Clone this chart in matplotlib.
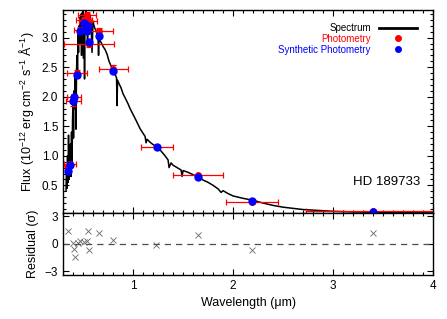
import matplotlib
matplotlib.use("Agg")
import matplotlib.pyplot as plt
from matplotlib.lines import Line2D
from matplotlib.ticker import MultipleLocator

plt.rcParams["font.family"] = ["Liberation Sans", "DejaVu Sans"]
plt.rcParams["mathtext.fontset"] = "custom"
plt.rcParams["mathtext.rm"] = "Liberation Sans"
plt.rcParams["mathtext.it"] = "Liberation Sans:italic"

# spectrum (wavelength in micron, flux in 1e-12 erg/cm2/s/A)
spec_wave = [0.33, 0.335, 0.34, 0.345, 0.35, 0.355, 0.36, 0.365, 0.37, 0.375,
             0.38, 0.385, 0.39, 0.395, 0.40, 0.405, 0.41, 0.415, 0.42, 0.425,
             0.43, 0.435, 0.44, 0.445, 0.45, 0.455, 0.46, 0.465, 0.47, 0.475,
             0.48, 0.485, 0.49, 0.495, 0.50, 0.505, 0.51, 0.515, 0.52, 0.525,
             0.53, 0.535, 0.54, 0.545, 0.55, 0.56, 0.57, 0.58, 0.59, 0.60,
             0.61, 0.62, 0.63, 0.64, 0.65, 0.655, 0.66, 0.68, 0.70, 0.72, 0.74,
             0.76, 0.78, 0.80, 0.82, 0.835, 0.84, 0.845, 0.86, 0.88, 0.90, 0.93,
             0.95, 0.97, 1.00, 1.03, 1.07, 1.10, 1.12, 1.13, 1.14, 1.17, 1.20, 1.24,
             1.28, 1.32, 1.35, 1.36, 1.38, 1.40, 1.44, 1.48, 1.49, 1.50,
             1.55, 1.60, 1.65, 1.70, 1.75, 1.80, 1.85, 1.88, 1.90, 1.95,
             2.00, 2.05, 2.10, 2.19, 2.30, 2.40, 2.50, 2.60, 2.70, 2.80,
             3.00, 3.20, 3.40, 3.60, 3.80, 4.00]
spec_flux = [0.40, 0.85, 0.45, 1.00, 0.55, 1.35, 0.60, 1.10, 0.70, 1.20,
             0.65, 1.40, 0.85, 1.60, 1.95, 1.30, 2.10, 1.80, 2.35, 2.05,
             1.45, 2.45, 2.70, 2.40, 3.05, 2.75, 3.20, 2.90, 3.35, 3.05,
             3.40, 2.70, 3.42, 3.15, 3.45, 2.65, 3.40, 2.30, 3.35, 3.10,
             3.45, 3.20, 3.40, 2.95, 3.42, 3.30, 3.38, 3.25, 2.75, 3.28,
             3.20, 3.15, 3.12, 3.05, 3.00, 2.70, 2.98, 2.92, 2.85, 2.80, 2.72,
             2.60, 2.52, 2.45, 2.38, 2.32, 1.85, 2.28, 2.22, 2.15, 2.05, 1.95,
             1.88, 1.80, 1.70, 1.60, 1.46, 1.38, 1.33, 1.22, 1.28, 1.23, 1.19, 1.15,
             1.08, 1.00, 0.93, 0.80, 0.88, 0.84, 0.80, 0.76, 0.65, 0.75,
             0.72, 0.68, 0.64, 0.59, 0.55, 0.50, 0.44, 0.38, 0.41, 0.36,
             0.32, 0.30, 0.28, 0.25, 0.20, 0.16, 0.13, 0.11, 0.09, 0.08,
             0.06, 0.05, 0.045, 0.04, 0.035, 0.032]

# photometry
phot_wave = [0.35, 0.365, 0.40, 0.41, 0.44, 0.47, 0.51, 0.54, 0.55, 0.56,
             0.66, 0.80, 1.24, 1.65, 2.19, 3.40]
phot_flux = [0.80, 0.86, 1.93, 1.99, 2.40, 3.13, 3.30, 3.38, 3.28, 2.90,
             3.12, 2.47, 1.15, 0.67, 0.22, 0.06]
phot_xerr = [0.03, 0.06, 0.075, 0.07, 0.10, 0.065, 0.08, 0.09, 0.09, 0.25,
             0.14, 0.145, 0.16, 0.25, 0.26, 0.67]
phot_yerr = [0.04, 0.04, 0.08, 0.05, 0.06, 0.05, 0.05, 0.06, 0.06, 0.05,
             0.05, 0.06, 0.03, 0.03, 0.02, 0.01]
synth_flux = [0.75, 0.85, 1.92, 2.00, 2.37, 3.12, 3.25, 3.12, 3.19, 2.92,
              3.03, 2.44, 1.15, 0.64, 0.24, 0.05]

# residuals in sigma
resid_wave = [0.346, 0.396, 0.406, 0.42, 0.446, 0.473, 0.513, 0.54, 0.546, 0.563,
              0.663, 0.80, 1.233, 1.653, 2.19, 3.40]
resid = [1.39, 0.13, -0.53, -1.44, 0.13, 0.30, 0.24, 0.30, 1.39, -0.67,
         1.20, 0.38, -0.13, 1.00, -0.68, 1.20]

fig = plt.figure(figsize=(4.47, 3.19), dpi=100)
ax = fig.add_axes([0.141, 0.332, 0.828, 0.637])
axr = fig.add_axes([0.141, 0.138, 0.828, 0.194], sharex=ax)

ax.plot(spec_wave, spec_flux, color="black", lw=1.1, zorder=2)
ax.errorbar(phot_wave, phot_flux, xerr=phot_xerr, yerr=phot_yerr, fmt="o",
            color="red", ecolor="red", ms=4, elinewidth=0.9, capsize=2,
            capthick=0.9, zorder=3)
ax.plot(phot_wave, synth_flux, "o", color="blue", ms=5, zorder=4)

ax.set_xlim(0.3, 4.0)
ax.set_ylim(0.03, 3.47)
ax.set_ylabel("Flux (10$^{-12}$ erg cm$^{-2}$ s$^{-1}$ Å$^{-1}$)", fontsize=9)
ax.yaxis.set_major_locator(MultipleLocator(0.5))
ax.yaxis.set_minor_locator(MultipleLocator(0.1))
ax.xaxis.set_major_locator(MultipleLocator(1))
ax.xaxis.set_minor_locator(MultipleLocator(0.1))
ax.tick_params(labelbottom=False)
ax.text(0.965, 0.153, "HD 189733", transform=ax.transAxes, ha="right", va="center",
        fontsize=9.5)

handles = [Line2D([], [], color="black", lw=2),
           Line2D([], [], ls="none", marker="o", color="red", ms=4),
           Line2D([], [], ls="none", marker="o", color="blue", ms=4)]
labels = ["Spectrum", "Photometry", "Synthetic Photometry"]
leg = ax.legend(handles, labels, loc="upper right", frameon=False, markerfirst=False,
                fontsize=7, handlelength=4, handletextpad=0.8, labelspacing=0.1,
                borderaxespad=0, bbox_to_anchor=(0.968, 0.955))
for txt, c in zip(leg.get_texts(), ["black", "red", "blue"]):
    txt.set_color(c)

axr.plot(resid_wave, resid, "x", color="0.4", ms=4.5, mew=0.6)
axr.axhline(0, color="0.3", ls=(0, (5, 4)), lw=0.9)
axr.set_ylim(-3.4, 3.35)
axr.set_yticks([-3, 0, 3])
axr.set_yticklabels(["\u22123", "0", "3"])
axr.set_ylabel("Residual (\u03c3)", fontsize=9)
axr.set_xlabel("Wavelength (\u03bcm)", fontsize=9)
axr.set_xticks([1, 2, 3, 4])

for a in (ax, axr):
    a.tick_params(which="both", direction="in", top=True, right=True, labelsize=8.5,
                  width=0.8)
    a.tick_params(which="major", length=4)
    a.tick_params(which="minor", length=2)
    for s in a.spines.values():
        s.set_linewidth(1.0)

fig.savefig("out.png", dpi=100)
